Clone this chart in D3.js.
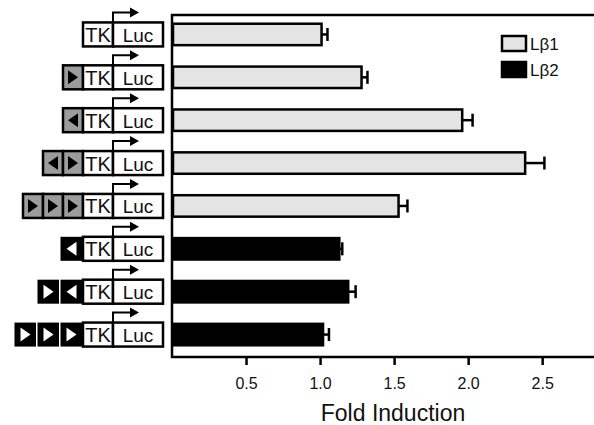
<!DOCTYPE html>
<html>
<head>
<meta charset="utf-8">
<title>Fold Induction</title>
<script src="https://d3js.org/d3.v7.min.js"></script>
<style>
  body { margin: 0; background: #fff; }
  text { font-family: "Liberation Sans", Arial, sans-serif; }
</style>
</head>
<body>
<div id="chart"></div>
<script>
// rows from top to bottom
var rows = ["r1", "r2", "r3", "r4", "r5", "r6", "r7", "r8"];
var groups = ["Lβ1", "Lβ1", "Lβ1", "Lβ1", "Lβ1", "Lβ2", "Lβ2", "Lβ2"];
// element orientation in each construct, left to right (R = right triangle, L = left)
var elements = [[], ["R"], ["L"], ["L", "R"], ["R", "R", "R"], ["L"], ["R", "L"], ["R", "R", "R"]];
var values = [1.01, 1.28, 1.96, 2.385, 1.53, 1.13, 1.19, 1.02];
var errors = [0.04, 0.04, 0.07, 0.13, 0.06, 0.02, 0.05, 0.04];
var xTicks = [0.5, 1.0, 1.5, 2.0, 2.5];
var legendKeys = ["Lβ1", "Lβ2"];

var width = 594, height = 425;
var fills = { "Lβ1": "#e4e4e4", "Lβ2": "#000" };

var svg = d3.select("#chart").append("svg")
    .attr("width", width)
    .attr("height", height);

var x = d3.scaleLinear().domain([0, 2.85]).range([172, 594]);
var y = d3.scaleBand().domain(rows).range([13, 356])
    .paddingInner(0.5).paddingOuter(0.25);

// frame: left axis + top line
svg.append("path")
    .attr("d", "M" + width + ",15H172V357H" + width)
    .attr("fill", "none").attr("stroke", "#000").attr("stroke-width", 2.5);

// bars
svg.selectAll("rect.bar")
    .data(rows)
    .enter().append("rect")
    .attr("class", "bar")
    .attr("x", x(0) + 1)
    .attr("y", function(d) { return y(d); })
    .attr("width", function(d, i) { return x(values[i]) - x(0) - 1; })
    .attr("height", y.bandwidth())
    .attr("fill", function(d, i) { return fills[groups[i]]; })
    .attr("stroke", "#000").attr("stroke-width", 2.5);

// error bars (upper side only visible)
var err = svg.selectAll("g.err").data(rows).enter().append("g").attr("class", "err")
    .attr("stroke", "#000").attr("stroke-width", 2.5);
err.append("line")
    .attr("x1", function(d, i) { return x(values[i]); })
    .attr("x2", function(d, i) { return x(values[i] + errors[i]); })
    .attr("y1", function(d) { return y(d) + y.bandwidth() / 2; })
    .attr("y2", function(d) { return y(d) + y.bandwidth() / 2; });
err.append("line")
    .attr("x1", function(d, i) { return x(values[i] + errors[i]); })
    .attr("x2", function(d, i) { return x(values[i] + errors[i]); })
    .attr("y1", function(d) { return y(d) + y.bandwidth() / 2 - 6.5; })
    .attr("y2", function(d) { return y(d) + y.bandwidth() / 2 + 6.5; });

// x axis
var xAxis = svg.append("g")
    .attr("transform", "translate(0,357)")
    .call(d3.axisBottom(x).tickValues(xTicks).tickFormat(d3.format(".1f")).tickSize(8).tickPadding(13));
xAxis.select(".domain").remove();
xAxis.selectAll("line").attr("stroke-width", 2.5);
xAxis.selectAll("text").attr("font-size", "16px").attr("fill", "#111");

svg.append("text")
    .attr("x", 393).attr("y", 421)
    .attr("text-anchor", "middle")
    .attr("font-size", "23px").attr("fill", "#111")
    .text("Fold Induction");

// legend
var leg = svg.selectAll("g.leg").data(legendKeys).enter().append("g").attr("class", "leg")
    .attr("transform", function(d, i) { return "translate(502," + (36 + i * 26) + ")"; });
leg.append("rect")
    .attr("width", 24).attr("height", 15)
    .attr("fill", function(d) { return fills[d]; })
    .attr("stroke", "#000").attr("stroke-width", 2.5);
leg.append("text")
    .attr("x", 28).attr("y", 14)
    .attr("font-size", "17px").attr("fill", "#111")
    .text(function(d) { return d; });

// constructs on the left
var boxH = 24;
var cons = svg.selectAll("g.cons").data(rows).enter().append("g").attr("class", "cons")
    .attr("transform", function(d) { return "translate(0," + (y(d) + y.bandwidth() / 2 - boxH / 2) + ")"; });

cons.each(function(d, i) {
    var g = d3.select(this);
    var els = elements[i];
    var dark = groups[i] === "Lβ2";
    var pitch = dark ? 23 : 20;
    var n = els.length;
    els.forEach(function(o, j) {
        var x0 = 83 - (n - j) * pitch;
        var cx = x0 + pitch / 2, cy = boxH / 2;
        if (dark) {
            g.append("rect").attr("x", x0 + 0.5).attr("y", 0).attr("width", pitch - 1.5).attr("height", boxH)
                .attr("fill", "#000");
        } else {
            g.append("rect").attr("x", x0).attr("y", 0).attr("width", pitch).attr("height", boxH)
                .attr("fill", "#9c9c9c").attr("stroke", "#000").attr("stroke-width", 2.5);
        }
        var pts = o === "R"
            ? [[cx - 5, cy - 7], [cx + 5, cy], [cx - 5, cy + 7]]
            : [[cx + 5, cy - 7], [cx - 5, cy], [cx + 5, cy + 7]];
        g.append("polygon").attr("points", pts.map(function(p) { return p.join(","); }).join(" "))
            .attr("fill", dark ? "#fff" : "#000");
    });
    // TK and Luc boxes
    g.append("rect").attr("x", 83).attr("y", 0).attr("width", 30).attr("height", boxH)
        .attr("fill", "#fff").attr("stroke", "#000").attr("stroke-width", 2.5);
    g.append("rect").attr("x", 113).attr("y", 0).attr("width", 50).attr("height", boxH)
        .attr("fill", "#fff").attr("stroke", "#000").attr("stroke-width", 2.5);
    g.append("text").attr("x", 98).attr("y", 19.5).attr("text-anchor", "middle")
        .attr("font-size", "20px").attr("fill", "#111").text("TK");
    g.append("text").attr("x", 138).attr("y", 19.5).attr("text-anchor", "middle")
        .attr("font-size", "19px").attr("fill", "#111").text("Luc");
    // promoter arrow
    g.append("path").attr("d", "M113,0V-10H131")
        .attr("fill", "none").attr("stroke", "#000").attr("stroke-width", 2);
    g.append("polygon").attr("points", "130,-15 139,-10 130,-5").attr("fill", "#000");
});
</script>
</body>
</html>
